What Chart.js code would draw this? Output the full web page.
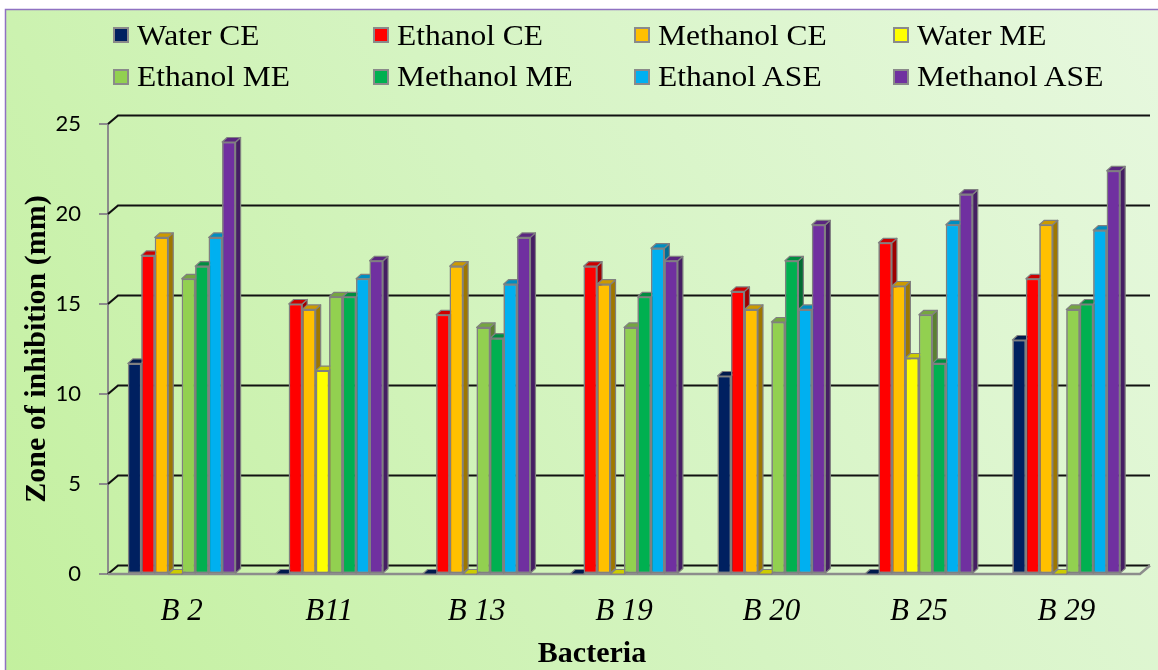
<!DOCTYPE html>
<html>
<head>
<meta charset="utf-8">
<script src="https://cdn.jsdelivr.net/npm/chart.js@4.4.1/dist/chart.umd.min.js"></script>
<style>
  html, body { margin: 0; padding: 0; background: #fff; }
  #wrap { position: relative; width: 1158px; height: 670px; }
  #chart { position: absolute; left: 0; top: 0; }
  #legend { position: absolute; left: 0; top: 0; width: 1158px; height: 110px; pointer-events: none; }
  .lg-item { position: absolute; height: 40px; }
  .lg-box { position: absolute; left: 0; width: 12px; height: 12px; border: 2px solid #8a8a8a; }
  .lg-text { position: absolute; left: 24px; font-family: "Liberation Serif", "Times New Roman", serif;
             font-size: 30px; line-height: 30px; color: #000; white-space: nowrap;
             transform: scaleX(1.05); transform-origin: 0 0; }
  #xtitle { position: absolute; left: 442px; width: 300px; top: 634px; text-align: center;
            font-family: "Liberation Serif", "Times New Roman", serif; font-size: 30px; font-weight: bold;
            line-height: 36px; color: #000; }
</style>
</head>
<body>
<div id="wrap">
  <canvas id="chart" width="1158" height="670"></canvas>
  <div id="legend"></div>
  <div id="xtitle">Bacteria</div>
</div>
<script>
// Bacterial strains on the category axis
const bacteria = ['B 2', 'B11', 'B 13', 'B 19', 'B 20', 'B 25', 'B 29'];

// Extract names and their fill colours
const seriesNames = ['Water CE', 'Ethanol CE', 'Methanol CE', 'Water ME',
                     'Ethanol ME', 'Methanol ME', 'Ethanol ASE', 'Methanol ASE'];
const seriesColors = ['#002060', '#FF0000', '#FFC000', '#FFFF00',
                      '#92D050', '#00B050', '#00B0F0', '#7030A0'];

// Zone of inhibition (mm) per strain
const waterCE     = [11.7, 0,    0,    0,    11.0, 0,    13.0];
const ethanolCE   = [17.7, 15.0, 14.4, 17.1, 15.7, 18.4, 16.4];
const methanolCE  = [18.7, 14.7, 17.1, 16.1, 14.7, 16.0, 19.4];
const waterME     = [0,    11.3, 0,    0,    0,    12.0, 0];
const ethanolME   = [16.4, 15.4, 13.7, 13.7, 14.0, 14.4, 14.7];
const methanolME  = [17.1, 15.4, 13.1, 15.4, 17.4, 11.7, 15.0];
const ethanolASE  = [18.7, 16.4, 16.1, 18.1, 14.7, 19.4, 19.1];
const methanolASE = [24.0, 17.4, 18.7, 17.4, 19.4, 21.1, 22.4];

// Value axis ticks
const yTicks = [0, 5, 10, 15, 20, 25];

const seriesValues = [waterCE, ethanolCE, methanolCE, waterME,
                      ethanolME, methanolME, ethanolASE, methanolASE];

// Depth offsets for the pseudo-3D look
const WALL_DX = 10, WALL_DY = -8.5;   // back wall / floor depth
const BAR_DX = 5,  BAR_DY = -4.5;     // bar depth

function shade(hex, f) {
  const n = parseInt(hex.slice(1), 16);
  const r = (n >> 16) & 255, g = (n >> 8) & 255, b = n & 255;
  return 'rgb(' + Math.round(r * f) + ',' + Math.round(g * f) + ',' + Math.round(b * f) + ')';
}

// Page frame with the soft green gradient
const framePlugin = {
  id: 'frame',
  beforeDraw(chart) {
    const ctx = chart.ctx, W = chart.width, H = chart.height;
    ctx.save();
    ctx.fillStyle = '#ffffff';
    ctx.fillRect(0, 0, W, H);
    const g = ctx.createLinearGradient(W, 0, 0, H);
    g.addColorStop(0, '#e7f8df');
    g.addColorStop(0.5, '#d5f4c2');
    g.addColorStop(1, '#c3f09e');
    ctx.fillStyle = g;
    ctx.fillRect(5, 9, W - 5, H - 9);
    ctx.strokeStyle = '#8f72c2';
    ctx.lineWidth = 1.5;
    ctx.beginPath();
    ctx.moveTo(5.5, H);
    ctx.lineTo(5.5, 9.5);
    ctx.lineTo(W, 9.5);
    ctx.stroke();
    ctx.restore();
  }
};

// Back wall gridlines and the floor outline
const wallPlugin = {
  id: 'wall',
  beforeDatasetsDraw(chart) {
    const { ctx, chartArea: { left, right, bottom }, scales: { y } } = chart;
    ctx.save();
    ctx.strokeStyle = '#111';
    ctx.lineWidth = 2.2;
    y.ticks.forEach(t => {
      const py = y.getPixelForValue(t.value);
      ctx.beginPath();
      ctx.moveTo(left, py);
      ctx.lineTo(left + WALL_DX, py + WALL_DY);
      ctx.lineTo(right + WALL_DX, py + WALL_DY);
      ctx.stroke();
    });
    ctx.strokeStyle = '#8c8c8c';
    ctx.lineWidth = 2.5;
    ctx.beginPath();
    ctx.moveTo(left, bottom);
    ctx.lineTo(right, bottom);
    ctx.lineTo(right + WALL_DX, bottom + WALL_DY);
    ctx.stroke();
    ctx.restore();
  }
};

// Bars with top and side faces, painted left to right inside each group
const barsPlugin = {
  id: 'bars3d',
  afterDatasetsDraw(chart) {
    const ctx = chart.ctx, area = chart.chartArea;
    const metas = chart.data.datasets.map((d, i) => chart.getDatasetMeta(i));
    ctx.save();
    for (let j = 0; j < bacteria.length; j++) {
      metas.forEach((meta, i) => {
        const bar = meta.data[j];
        const { x, y, base, width } = bar.getProps(['x', 'y', 'base', 'width'], true);
        const l = x - width / 2, r = x + width / 2;
        const col = seriesColors[i];
        bar.draw(ctx, area);
        ctx.lineWidth = 1.2;
        ctx.strokeStyle = '#808080';
        ctx.lineJoin = 'round';
        // side
        ctx.beginPath();
        ctx.moveTo(r, y);
        ctx.lineTo(r + BAR_DX, y + BAR_DY);
        ctx.lineTo(r + BAR_DX, base + BAR_DY);
        ctx.lineTo(r, base);
        ctx.closePath();
        ctx.fillStyle = shade(col, 0.62);
        ctx.fill();
        ctx.stroke();
        // top
        ctx.beginPath();
        ctx.moveTo(l, y);
        ctx.lineTo(l + BAR_DX, y + BAR_DY);
        ctx.lineTo(r + BAR_DX, y + BAR_DY);
        ctx.lineTo(r, y);
        ctx.closePath();
        ctx.fillStyle = shade(col, 0.8);
        ctx.fill();
        ctx.stroke();
      });
    }
    ctx.restore();
  }
};

const chart = new Chart(document.getElementById('chart'), {
  type: 'bar',
  data: {
    labels: bacteria,
    datasets: seriesNames.map((name, i) => ({
      label: name,
      data: seriesValues[i],
      backgroundColor: seriesColors[i],
      borderColor: '#808080',
      borderWidth: 1.5,
      borderSkipped: false,
      categoryPercentage: 0.731,
      barPercentage: 1.0
    }))
  },
  options: {
    responsive: false,
    animation: false,
    devicePixelRatio: 1,
    layout: { padding: { left: 0, top: 124, right: 18, bottom: 0 } },
    plugins: { legend: { display: false }, tooltip: { enabled: false } },
    scales: {
      x: {
        grid: { display: false, drawTicks: false },
        border: { display: false },
        ticks: {
          padding: 19,
          color: '#000',
          font: { family: '"Liberation Serif", "Times New Roman", serif', size: 31, style: 'italic' }
        },
        afterFit(scale) { scale.height = 96; }
      },
      y: {
        min: 0,
        max: 25,
        afterBuildTicks(scale) { scale.ticks = yTicks.map(v => ({ value: v })); },
        grid: { drawOnChartArea: false, drawTicks: true, tickLength: 9, color: '#8c8c8c', lineWidth: 2 },
        border: { display: true, color: '#8c8c8c', width: 2 },
        ticks: {
          padding: 18,
          color: '#000',
          font: { family: 'Lato, "Liberation Sans", sans-serif', size: 22 }
        },
        title: {
          display: true,
          text: 'Zone of inhibition (mm)',
          color: '#000',
          padding: { top: 19, bottom: 0 },
          font: { family: '"Liberation Serif", "Times New Roman", serif', size: 30, weight: 'bold' }
        },
        afterFit(scale) { scale.width = 108; }
      }
    }
  },
  plugins: [framePlugin, wallPlugin, barsPlugin]
});

// Legend laid out in four aligned columns
const legendCols = [113, 373, 634, 893];
const legendRows = [27, 68.5];
const legendEl = document.getElementById('legend');
seriesNames.forEach((name, i) => {
  const item = document.createElement('div');
  item.className = 'lg-item';
  item.style.left = legendCols[i % 4] + 'px';
  item.style.top = legendRows[Math.floor(i / 4)] + 'px';
  const box = document.createElement('div');
  box.className = 'lg-box';
  box.style.top = '0px';
  box.style.background = seriesColors[i];
  const txt = document.createElement('div');
  txt.className = 'lg-text';
  txt.style.top = '-7.5px';
  txt.textContent = name;
  item.appendChild(box);
  item.appendChild(txt);
  legendEl.appendChild(item);
});
</script>
</body>
</html>
